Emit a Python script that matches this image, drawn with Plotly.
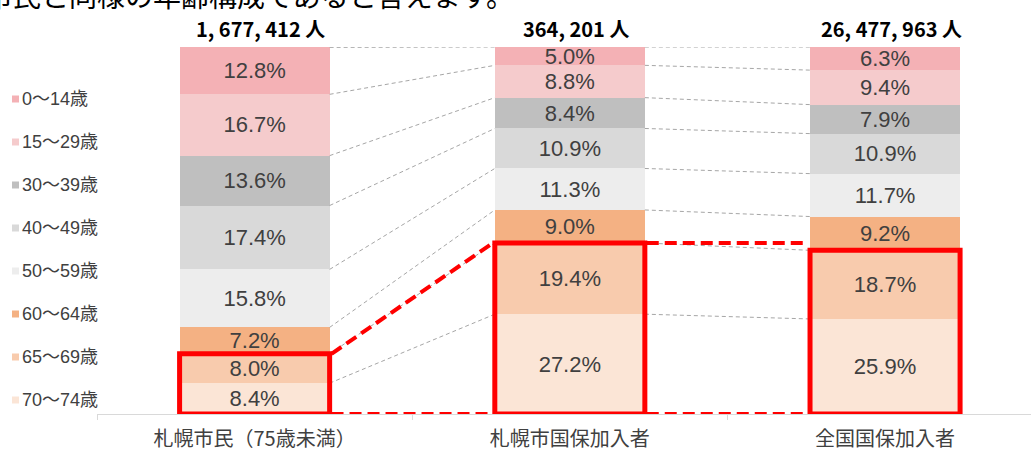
import plotly.graph_objects as go

# ---- data ----
categories = ["札幌市民（75歳未満）", "札幌市国保加入者", "全国国保加入者"]
age_groups = ["0～14歳", "15～29歳", "30～39歳", "40～49歳",
              "50～59歳", "60～64歳", "65～69歳", "70～74歳"]
share_sapporo = [12.8, 16.7, 13.6, 17.4, 15.8, 7.2, 8.0, 8.4]
share_sapporo_kokuho = [5.0, 8.8, 8.4, 10.9, 11.3, 9.0, 19.4, 27.2]
share_national_kokuho = [6.3, 9.4, 7.9, 10.9, 11.7, 9.2, 18.7, 25.9]
totals = [1677412, 364201, 26477963]
colors = ["#F4B1B5", "#F5CBCC", "#BFBFBF", "#D9D9D9",
          "#EDEDED", "#F4B183", "#F8CBAD", "#FBE5D6"]
n_highlight = 2  # bottom groups highlighted: 65～69歳, 70～74歳
caption = "市民と同様の年齢構成であると言えます。"

series = [share_sapporo, share_sapporo_kokuho, share_national_kokuho]

# ---- layout geometry ----
W, H = 1031, 451
ML, MR, MT, MB = 97, 0, 47, 37
PW, PH = W - ML - MR, H - MT - MB
BAR_W = 0.476


def px_x(px):
    return (px - ML) / PW


def px_y(py):
    return (H - MB - py) / PH


fig = go.Figure()

# stacked bars, bottom group first
for j in reversed(range(len(age_groups))):
    vals = [s[j] for s in series]
    fig.add_trace(go.Bar(
        x=categories, y=vals, name=age_groups[j],
        marker=dict(color=colors[j], line=dict(width=0)),
        text=[f"{v:.1f}%" for v in vals],
        textposition="inside", insidetextanchor="middle",
        textfont=dict(size=22, color="#404040",
                      family="Liberation Sans, Arial, sans-serif"),
        width=BAR_W, showlegend=False, hoverinfo="skip",
    ))

# cumulative boundaries from bottom
cums = []
for s in series:
    c = [0.0]
    for v in reversed(s):
        c.append(c[-1] + v)
    cums.append(c)

shapes = []
# gray dashed connectors
for i in range(len(series) - 1):
    for k in range(1, len(age_groups) + 1):
        shapes.append(dict(
            type="line", xref="x", yref="y",
            x0=i + BAR_W / 2, x1=i + 1 - BAR_W / 2,
            y0=cums[i][k], y1=cums[i + 1][k],
            line=dict(color="#A6A6A6", width=1, dash="4px,3px"),
            layer="above"))

# red highlight boxes
for i in range(len(series)):
    shapes.append(dict(
        type="rect", xref="x", yref="y",
        x0=i - BAR_W / 2, x1=i + BAR_W / 2,
        y0=0, y1=cums[i][n_highlight],
        line=dict(color="#FF0000", width=5), fillcolor="rgba(0,0,0,0)",
        layer="above"))

# red dashed connectors
for i in range(len(series) - 1):
    top0 = cums[i][n_highlight]
    top1 = max(cums[i][n_highlight], cums[i + 1][n_highlight])
    for y0, y1 in [(top0, top1), (0, 0)]:
        shapes.append(dict(
            type="line", xref="x", yref="y",
            x0=i + BAR_W / 2 + 0.006, x1=i + 1 - BAR_W / 2 - 0.006,
            y0=y0, y1=y1,
            line=dict(color="#FF0000", width=4, dash="12px,6px"),
            layer="above"))

annotations = []
# legend (custom)
for j, g in enumerate(age_groups):
    ypx = 99 + 43 * j
    shapes.append(dict(
        type="rect", xref="paper", yref="paper",
        x0=px_x(12), x1=px_x(19), y0=px_y(ypx + 3.5), y1=px_y(ypx - 3.5),
        fillcolor=colors[j], line=dict(width=0)))
    annotations.append(dict(
        xref="paper", yref="paper", x=px_x(20), y=px_y(ypx),
        xanchor="left", yanchor="middle", text=g, showarrow=False,
        font=dict(size=18, color="#404040",
                  family="Liberation Sans, Noto Sans CJK JP, sans-serif")))

# totals above bars
for i, t in enumerate(totals):
    annotations.append(dict(
        xref="x", yref="paper", x=i, y=px_y(28), xshift=6,
        xanchor="center", yanchor="middle",
        text="<b>" + f"{t:,}".replace(",", ", ") + " 人</b>", showarrow=False,
        font=dict(size=20, color="#000000",
                  family="Liberation Sans Narrow, Noto Sans CJK JP, sans-serif")))

# caption cut at the top
annotations.append(dict(
    xref="paper", yref="paper", x=px_x(516), y=px_y(-5),
    xanchor="right", yanchor="middle", text=caption, showarrow=False,
    font=dict(size=28, color="#000000", family="Noto Sans CJK JP")))

fig.update_layout(
    width=W, height=H,
    margin=dict(l=ML, r=MR, t=MT, b=MB),
    barmode="stack",
    plot_bgcolor="white", paper_bgcolor="white",
    shapes=shapes, annotations=annotations,
    uniformtext=dict(minsize=22, mode="show"),
    xaxis=dict(
        type="category", range=[-0.5, 2.463], automargin=False,
        showline=True, linecolor="#D9D9D9", linewidth=1,
        ticks="outside", tickson="boundaries", ticklen=5, tickcolor="#D9D9D9",
        ticklabelstandoff=7,
        tickfont=dict(size=20, color="#404040", family="Noto Sans CJK JP"),
        showgrid=False, zeroline=False,
    ),
    yaxis=dict(range=[0, 100], visible=False, showgrid=False),
)

fig.write_html(
    "out.html",
    config={"displayModeBar": False},
    post_script="document.body.style.margin='0';document.body.style.overflow='hidden';",
)
